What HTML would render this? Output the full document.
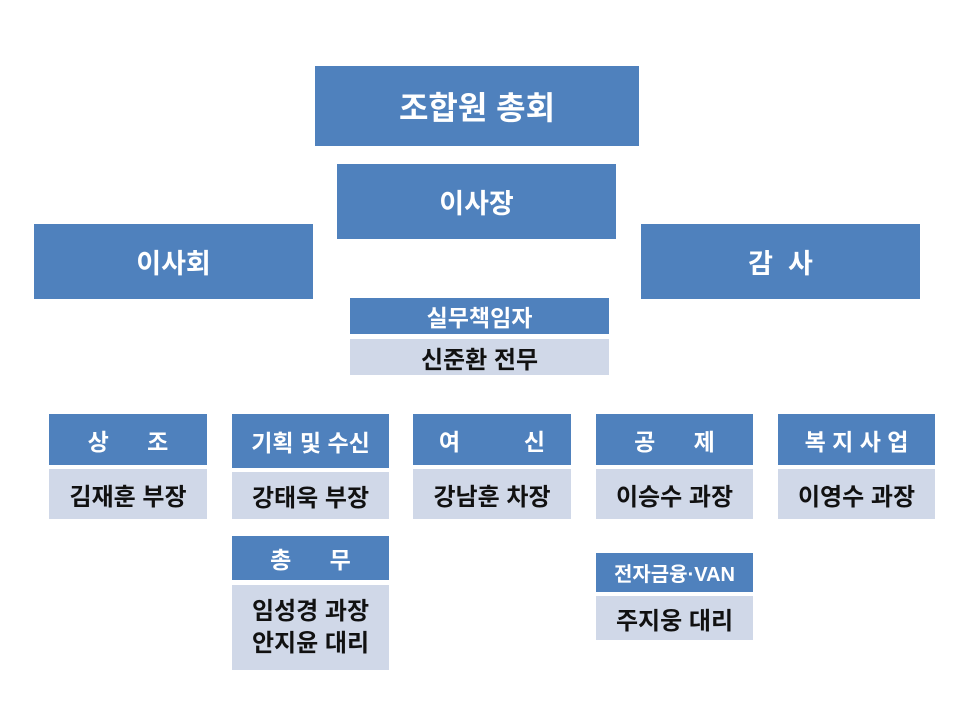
<!DOCTYPE html>
<html><head><meta charset="utf-8"><style>
body{margin:0;width:962px;height:722px;background:#fff;position:relative;overflow:hidden;font-family:"Liberation Sans","Noto Sans CJK KR","NanumGothic",sans-serif}
.b{position:absolute;display:flex;align-items:center;justify-content:center;box-sizing:border-box;white-space:pre;text-align:center}
.h{background:#4f81bd;color:#fff}
.l{background:#d0d8e8;color:#111;font-weight:bold}
.big{font-size:32px;font-weight:bold}
.mid{font-size:27px;font-weight:bold}
.hd{font-size:23px;font-weight:bold}
.nm{font-size:24px}
</style></head><body>
<div class="b h big" style="left:315px;top:66px;width:324px;height:80px">조합원 총회</div>
<div class="b h mid" style="left:337px;top:164px;width:279px;height:75px">이사장</div>
<div class="b h mid" style="left:34px;top:224px;width:279px;height:75px">이사회</div>
<div class="b h mid" style="left:641px;top:224px;width:279px;height:75px">감  사</div>
<div class="b h hd" style="left:350px;top:298px;width:259px;height:36px">실무책임자</div>
<div class="b l nm" style="left:350px;top:339px;width:259px;height:36px">신준환 전무</div>

<div class="b h hd" style="left:49px;top:414px;width:158px;height:51px">상      조</div>
<div class="b l nm" style="left:49px;top:469px;width:158px;height:50px">김재훈 부장</div>
<div class="b h hd" style="left:232px;top:414px;width:157px;height:54px">기획 및 수신</div>
<div class="b l nm" style="left:232px;top:472px;width:157px;height:47px">강태욱 부장</div>
<div class="b h hd" style="left:413px;top:414px;width:158px;height:51px">여          신</div>
<div class="b l nm" style="left:413px;top:469px;width:158px;height:50px">강남훈 차장</div>
<div class="b h hd" style="left:596px;top:414px;width:157px;height:51px">공      제</div>
<div class="b l nm" style="left:596px;top:469px;width:157px;height:50px">이승수 과장</div>
<div class="b h hd" style="left:778px;top:414px;width:157px;height:51px">복 지 사 업</div>
<div class="b l nm" style="left:778px;top:469px;width:157px;height:50px">이영수 과장</div>

<div class="b h hd" style="left:232px;top:536px;width:157px;height:44px">총      무</div>
<div class="b l nm" style="left:232px;top:585px;width:157px;height:85px;line-height:32px">임성경 과장
안지윤 대리</div>
<div class="b h" style="left:596px;top:553px;width:157px;height:39px;font-size:20px;font-weight:bold">전자금융·VAN</div>
<div class="b l nm" style="left:596px;top:596px;width:157px;height:44px">주지웅 대리</div>
</body></html>
